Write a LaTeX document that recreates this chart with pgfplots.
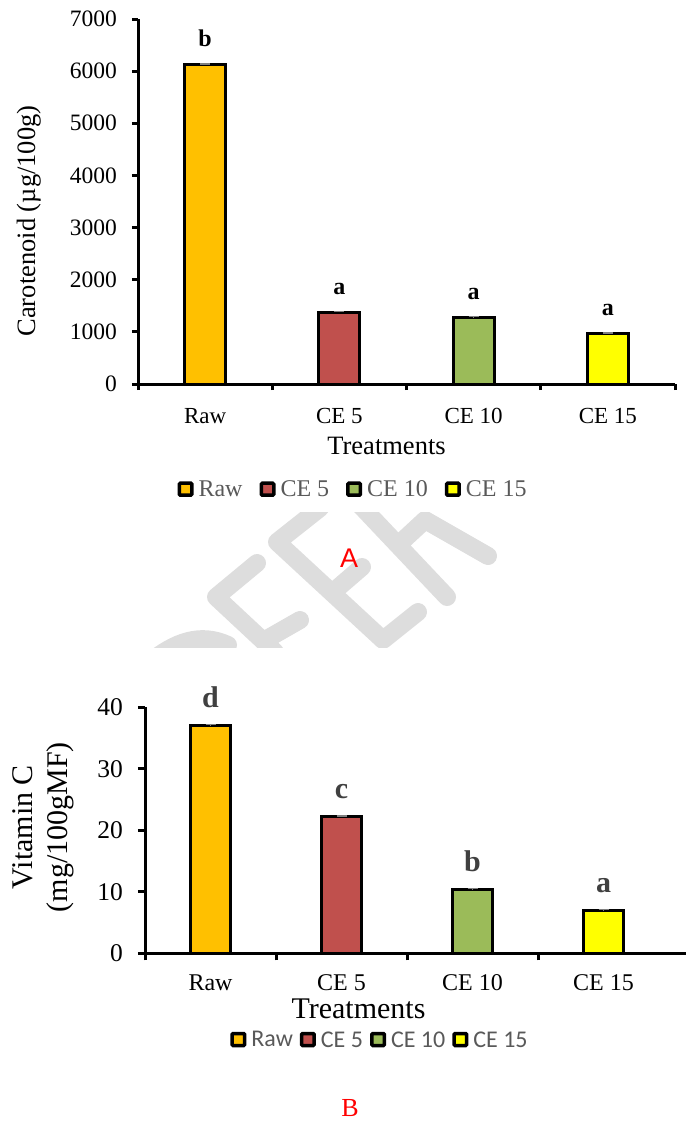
\documentclass[border=0pt]{standalone}
\usepackage{fontspec}
\setmainfont{Liberation Serif}
\newfontfamily\arialf{Liberation Sans}
\newfontfamily\carlito{Carlito}
\usepackage{pgfplots}
\pgfplotsset{compat=1.18}
\definecolor{cRaw}{HTML}{FFC000}
\definecolor{cCEfive}{HTML}{C0504D}
\definecolor{cCEten}{HTML}{9BBB59}
\definecolor{cCEfifteen}{HTML}{FFFF00}
\definecolor{legtext}{HTML}{595959}
\definecolor{wm}{HTML}{DDDDDD}
\definecolor{letterB}{HTML}{404040}
\newcommand\fs[1]{\fontsize{#1}{#1}\selectfont}

\pgfplotsset{
  barchart/.style={
    scale only axis, clip=false, axis lines*=left,
    axis line style={line width=3pt, black},
    tick align=outside,
    every tick/.style={black, line width=3pt},
    ymin=0, xmin=-0.5,
    xticklabels={},
    extra x ticks={0,1,2,3},
    extra x tick labels={Raw,CE 5,CE 10,CE 15},
    extra x tick style={major tick length=0pt,
      xticklabel style={anchor=base, inner sep=0pt}},
    yticklabel style={anchor=east, inner sep=0pt},
    /pgf/number format/assume math mode=true,
    /pgf/number format/1000 sep={},
    legend columns=4,
    legend cell align=left,
  },
  legboxA/.style={legend image code/.code={%
      \draw[##1, line width=3.5pt, rounded corners=1pt] (1.75pt,-5.75pt) rectangle (14.25pt,6.25pt);}},
  legboxB/.style={legend image code/.code={%
      \draw[##1, line width=3.5pt, rounded corners=1pt] (1.75pt,-5.5pt) rectangle (14.25pt,6.5pt);}},
  barA/.style={ybar, bar width=41pt, draw=black, line width=3pt, fill=#1,
    error bars/y dir=plus, error bars/y explicit,
    error bars/error bar style={line width=1.5pt, color=gray},
    error bars/error mark options={rotate=90, line width=1.5pt, color=gray, mark size=5pt}},
  lettA/.style={nodes near coords={\textbf{#1}},
    every node near coord/.append style={anchor=base, inner sep=0pt, yshift=18pt, font=\fs{24}, text=black}},
  lettB/.style={nodes near coords={\textbf{#1}},
    every node near coord/.append style={anchor=base, inner sep=0pt, yshift=18pt, font=\fs{30}, text=letterB}},
}

\begin{document}
\begin{tikzpicture}
\path[use as bounding box] (0pt,0pt) rectangle (686pt,-1124pt);

% watermark
\begin{scope}
\clip (0pt,-512pt) rectangle (686pt,-647pt);
\draw[wm, line width=18pt, line cap=round, line join=round]
  (257pt,-563pt) -- (216pt,-597pt) -- (275pt,-652pt)
  (265pt,-640pt) -- (300pt,-620pt)
  (320pt,-508pt) -- (277pt,-542pt) -- (383pt,-640pt)
  (333pt,-592pt) -- (362pt,-567pt)
  (383pt,-640pt) -- (418pt,-612pt)
  (360pt,-505pt) -- (447pt,-597pt)
  (398pt,-545pt) -- (425pt,-520pt) -- (488pt,-556pt)
  (150pt,-662pt) .. controls (175pt,-642pt) and (200pt,-632pt) .. (228pt,-645pt);
\end{scope}

% ---------- Chart A ----------
\begin{axis}[barchart, legboxA,
  at={(138pt,-384pt)}, anchor=south west,
  width=537pt, height=365pt,
  xmax=3.5, ymax=7000,
  xtick={-0.5,0.5,1.5,2.5,3.5},
  ytick={0,1000,...,7000},
  major tick length=6pt,
  yticklabel style={font=\fs{23.5}, xshift=-15pt},
  extra x tick style={xticklabel style={font=\fs{23}, yshift=-39pt}},
  xlabel={Treatments},
  ylabel={Carotenoid (µg/100g)},
  every axis x label/.style={at={(rel axis cs:0.4628,-0.1918)}, anchor=base, font=\fs{26.5}},
  every axis y label/.style={at={(rel axis cs:-0.1918,0.4466)}, anchor=base, rotate=90, font=\fs{26.5}},
  legend style={at={(rel axis cs:0.4004,-0.289)}, anchor=center, draw=none, fill=none,
    font=\fs{24}, text=legtext, inner sep=0pt,
    /tikz/every odd column/.append style={column sep=3pt},
    /tikz/every even column/.append style={column sep=15pt}},
]
\addplot[barA=cRaw, lettA=b] coordinates {(0,6120) +- (0,15)};
\addplot[barA=cCEfive, lettA=a] coordinates {(1,1380) +- (0,15)};
\addplot[barA=cCEten, lettA=a] coordinates {(2,1275) +- (0,15)};
\addplot[barA=cCEfifteen, lettA=a] coordinates {(3,960) +- (0,15)};
\legend{Raw,CE 5,CE 10,CE 15}
\end{axis}

\node[text=red, font=\arialf\fs{27}] at (349pt,-558pt) {A};

% ---------- Chart B ----------
\begin{axis}[barchart, legboxB,
  at={(145pt,-953.3pt)}, anchor=south west,
  width=541pt, height=246pt,
  xmax=3.6298, ymax=40,
  xtick={-0.5,0.5,1.5,2.5},
  ytick={0,10,...,40},
  major tick length=7pt,
  yticklabel style={font=\fs{25.5}, xshift=-15pt},
  extra x tick style={xticklabel style={font=\fs{24}, yshift=-36.7pt}},
  xlabel={Treatments},
  ylabel={Vitamin C\\(mg/100gMF)},
  every axis x label/.style={at={(rel axis cs:0.3946,-0.263)}, anchor=base, font=\fs{30}},
  every axis y label/.style={at={(rel axis cs:-0.1876,0.5134)}, anchor=center, rotate=90, align=center, inner sep=0pt, font=\fontsize{30}{35}\selectfont},
  legend style={at={(rel axis cs:0.4344,-0.3524)}, anchor=center, draw=none, fill=none,
    font=\carlito\fs{24}, text=legtext, inner sep=0pt,
    /tikz/every odd column/.append style={column sep=3pt},
    /tikz/every even column/.append style={column sep=5pt}},
]
\addplot[barA=cRaw, bar width=40pt, lettB=d] coordinates {(0,37.1) +- (0,0.1)};
\addplot[barA=cCEfive, bar width=40pt, lettB=c] coordinates {(1,22.2) +- (0,0.1)};
\addplot[barA=cCEten, bar width=40pt, lettB=b] coordinates {(2,10.4) +- (0,0.1)};
\addplot[barA=cCEfifteen, bar width=40pt, lettB=a] coordinates {(3,7.0) +- (0,0.1)};
\legend{Raw,CE 5,CE 10,CE 15}
\end{axis}

\node[text=red, font=\fs{26}] at (350pt,-1108pt) {B};
\end{tikzpicture}
\end{document}
